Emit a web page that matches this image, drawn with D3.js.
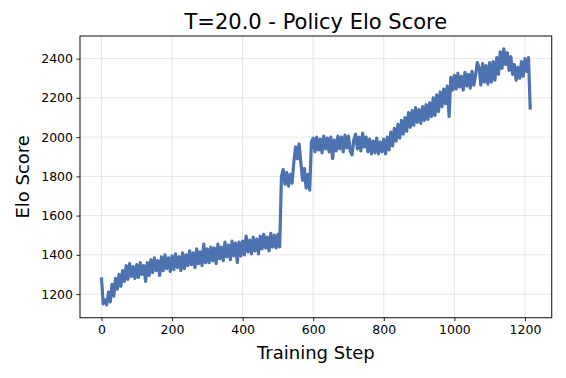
<!DOCTYPE html>
<html>
<head>
<meta charset="utf-8">
<script src="https://cdn.jsdelivr.net/npm/d3@7"></script>
<style>
  body { margin: 0; background: #fff; }
  svg { display: block; font-family: "DejaVu Sans", sans-serif; }
</style>
</head>
<body>
<div id="chart"></div>
<script>
var width = 566, height = 378;
var margin = {top: 36, right: 14.3, bottom: 60.3, left: 80};

var titleText = "T=20.0 - Policy Elo Score";
var xLabel = "Training Step";
var yLabel = "Elo Score";
var xTicks = [0, 200, 400, 600, 800, 1000, 1200];
var yTicks = [1200, 1400, 1600, 1800, 2000, 2200, 2400];

var stepEvery = 5;
var elo = [
  1285, 1150, 1170, 1145, 1210, 1160, 1250, 1190, 1280, 1225, 1300, 1240, 1320, 1265, 1345, 1275, 1355, 1290, 1340, 1280,
  1350, 1285, 1360, 1300, 1345, 1265, 1360, 1295, 1375, 1310, 1385, 1320, 1370, 1295, 1390, 1320, 1400, 1330, 1385, 1315,
  1395, 1325, 1405, 1335, 1390, 1320, 1410, 1330, 1400, 1345, 1420, 1350, 1410, 1335, 1430, 1355, 1415, 1345, 1455, 1360,
  1430, 1360, 1440, 1370, 1435, 1355, 1455, 1380, 1440, 1370, 1465, 1390, 1450, 1375, 1470, 1395, 1460, 1360, 1465, 1395,
  1470, 1400, 1495, 1415, 1475, 1405, 1490, 1420, 1480, 1405, 1495, 1430, 1505, 1435, 1490, 1420, 1510, 1440, 1500, 1435,
  1505, 1440, 1800, 1835, 1760, 1820, 1750, 1810, 1765, 1870, 1950, 1890, 1965, 1870, 1780, 1840, 1740, 1810, 1730, 1975,
  1995, 1925, 2000, 1935, 1990, 1920, 2005, 1940, 1995, 1925, 2000, 1890, 1985, 1930, 2005, 1940, 2000, 1925, 2010, 1945,
  2005, 1930, 1910, 1985, 2015, 1940, 2000, 1930, 2020, 1950, 2000, 1925, 1990, 1915, 1980, 1920, 1995, 1915, 1975, 1925,
  1990, 1915, 2000, 1935, 2025, 1955, 2045, 1980, 2065, 1995, 2085, 2015, 2100, 2030, 2125, 2050, 2135, 2060, 2150, 2075,
  2140, 2070, 2155, 2085, 2165, 2090, 2175, 2105, 2200, 2110, 2215, 2130, 2230, 2155, 2245, 2170, 2260, 2105, 2305, 2240,
  2315, 2245, 2325, 2255, 2310, 2240, 2330, 2260, 2320, 2250, 2335, 2265, 2315, 2380, 2355, 2265, 2375, 2280, 2365, 2270,
  2380, 2280, 2385, 2290, 2405, 2320, 2435, 2350, 2450, 2370, 2430, 2340, 2410, 2320, 2370, 2290, 2355, 2300, 2385, 2310,
  2400, 2335, 2405, 2140
];

var data = elo.map(function(v, i) { return {step: i * stepEvery, elo: v}; });

var svg = d3.select("#chart").append("svg")
  .attr("width", width)
  .attr("height", height);

svg.append("rect").attr("width", width).attr("height", height).attr("fill", "#fff");

var innerW = width - margin.left - margin.right;
var innerH = height - margin.top - margin.bottom;

// matplotlib style 5% padding
var xMin = d3.min(data, d => d.step), xMax = d3.max(data, d => d.step);
var yMin = d3.min(data, d => d.elo), yMax = d3.max(data, d => d.elo);
var xPad = (xMax - xMin) * 0.05, yPad = (yMax - yMin) * 0.05;

var x = d3.scaleLinear().domain([xMin - xPad, xMax + xPad]).range([0, innerW]);
var y = d3.scaleLinear().domain([yMin - yPad, yMax + yPad]).range([innerH, 0]);

var g = svg.append("g").attr("transform", "translate(" + margin.left + "," + margin.top + ")");

// grid
g.append("g").selectAll("line").data(xTicks).enter().append("line")
  .attr("x1", d => x(d)).attr("x2", d => x(d))
  .attr("y1", 0).attr("y2", innerH)
  .attr("stroke", "#e6e6e6").attr("stroke-width", 1);
g.append("g").selectAll("line").data(yTicks).enter().append("line")
  .attr("x1", 0).attr("x2", innerW)
  .attr("y1", d => y(d)).attr("y2", d => y(d))
  .attr("stroke", "#e6e6e6").attr("stroke-width", 1);

// the line
var line = d3.line().x(d => x(d.step)).y(d => y(d.elo));
g.append("path")
  .datum(data)
  .attr("d", line)
  .attr("fill", "none")
  .attr("stroke", "#4c72b0")
  .attr("stroke-width", 3.2)
  .attr("stroke-linejoin", "round");

// axes
var xAxis = g.append("g")
  .attr("transform", "translate(0," + innerH + ")")
  .call(d3.axisBottom(x).tickValues(xTicks).tickSize(3.5).tickPadding(3.5).tickFormat(d3.format("d")));
var yAxis = g.append("g")
  .call(d3.axisLeft(y).tickValues(yTicks).tickSize(3.5).tickPadding(3.5).tickFormat(d3.format("d")));

[xAxis, yAxis].forEach(function(a) {
  a.select(".domain").remove();
  a.selectAll("line").attr("stroke", "#222").attr("stroke-width", 1);
  a.selectAll("text").attr("font-family", "DejaVu Sans").attr("font-size", 12.5).attr("fill", "#000");
});

// frame
g.append("rect")
  .attr("width", innerW).attr("height", innerH)
  .attr("fill", "none").attr("stroke", "#222").attr("stroke-width", 1.1);

// labels
svg.append("text")
  .attr("x", margin.left + innerW / 2).attr("y", 29)
  .attr("text-anchor", "middle")
  .attr("font-size", 21).attr("fill", "#000")
  .text(titleText);

svg.append("text")
  .attr("x", margin.left + innerW / 2).attr("y", 359)
  .attr("text-anchor", "middle")
  .attr("font-size", 18).attr("fill", "#000")
  .text(xLabel);

svg.append("text")
  .attr("transform", "translate(28.5," + (margin.top + innerH / 2) + ") rotate(-90)")
  .attr("text-anchor", "middle")
  .attr("font-size", 18).attr("fill", "#000")
  .text(yLabel);
</script>
</body>
</html>
